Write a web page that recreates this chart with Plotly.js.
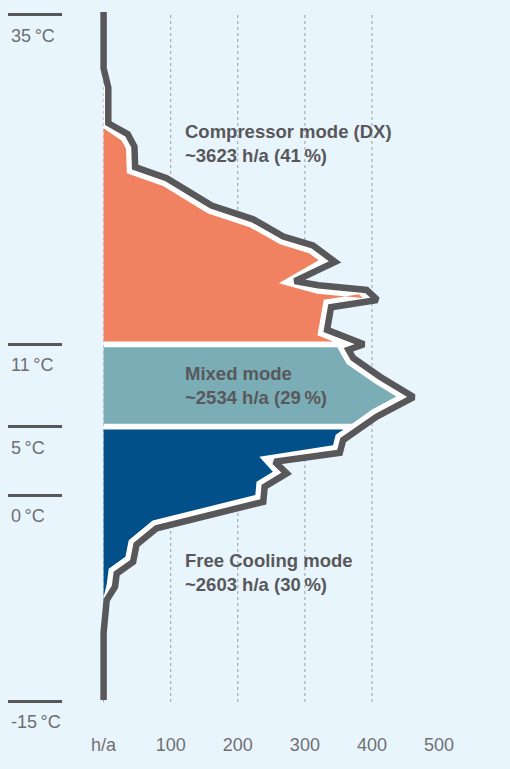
<!DOCTYPE html>
<html>
<head>
<meta charset="utf-8">
<script src="https://cdn.plot.ly/plotly-3.0.1.min.js"></script>
<style>
html,body{margin:0;padding:0;background:#e9f5fd;}
#chart{width:510px;height:769px;}
</style>
</head>
<body>
<div id="chart"></div>
<script>
// ---- data ----
const tempC = [35.2, 31.1, 29.7, 27.1, 26.3, 25.4, 23.9, 23.1, 21.1, 20.1, 18.85, 18.2, 17.0, 15.6, 15.3, 14.96, 14.23, 13.7, 12.05, 11.0, 10.6, 10.0, 8.64, 7.16, 5.73, 5.0, 4.03, 3.1, 2.45, 1.6, 0.63, -0.47, -2.4, -3.6, -4.84, -5.7, -6.66, -7.63, -10.0, -14.9];
const hoursPerYear = [0, 0, 7, 7, 36, 46, 47, 94, 161, 223, 268, 312, 345, 285, 320, 392, 408, 339, 333, 388, 365, 372, 412, 462, 407, 387, 357, 352, 255, 273, 240, 238, 79, 49, 44, 19.5, 17, 4.6, 0, 0];

const modeNames  = ['Compressor mode (DX)', 'Mixed mode', 'Free Cooling mode'];
const modeHours  = [3623, 2534, 2603];
const modeShares = [41, 29, 30];
const modeLow    = [11, 5, -20];
const modeHigh   = [40, 11, 5];
const modeColors = ['#f08262', '#7badb7', '#01508a'];
const modeLabelT = [25.62, 8.02, -5.61];

const tempTicks    = [35, 11, 5, 0, -15];
const tempTickText = ['35\u2009°C', '11\u2009°C', '5\u2009°C', '0\u2009°C', '-15\u2009°C'];
const hourTicks    = [0, 100, 200, 300, 400, 500];
const hourTickText = ['h/a', '100', '200', '300', '400', '500'];
const gridHours    = [0, 100, 200, 300, 400];

// ---- layout geometry ----
const W = 510, H = 769;
const M = {l: 63, r: 0, t: 12, b: 67};
const xRange = [-60.5, 605.7];
const yRange = [-15.05, 35.2];
const sx = (W - M.l - M.r) / (xRange[1] - xRange[0]);
const sy = (H - M.t - M.b) / (yRange[1] - yRange[0]);

const BG = '#e9f5fd';
const LINE = '#58585a';

// inset the profile polyline toward the filled side by d pixels
function inset(xs, ys, d, convexLim, concaveLim) {
  const P = xs.map((x, i) => [x * sx, -ys[i] * sy]);
  const n = P.length, nm = [];
  for (let i = 0; i < n - 1; i++) {
    const dx = P[i + 1][0] - P[i][0], dy = P[i + 1][1] - P[i][1];
    const L = Math.hypot(dx, dy) || 1;
    nm.push([-dy / L, dx / L, dx, dy]);
  }
  const out = [];
  for (let i = 0; i < n; i++) {
    let ox, oy;
    if (i === 0 || i === n - 1) {
      const a = nm[i === 0 ? 0 : n - 2];
      ox = a[0] * d; oy = a[1] * d;
    } else {
      const a = nm[i - 1], b = nm[i];
      let mx = a[0] + b[0], my = a[1] + b[1], ml = Math.hypot(mx, my);
      if (ml < 1e-6) { mx = -a[2]; my = -a[3]; ml = Math.hypot(mx, my); }
      mx /= ml; my /= ml;
      const c = Math.max(mx * a[0] + my * a[1], 0.05);
      const cross = a[2] * b[3] - a[3] * b[2];
      const lim = cross > 0 ? convexLim : concaveLim;
      const len = Math.min(d / c, lim * d);
      ox = mx * len; oy = my * len;
    }
    out.push([Math.max(0, (P[i][0] + ox) / sx), -(P[i][1] + oy) / sy]);
  }
  return [[0, out[0][1]]].concat(out, [[0, out[n - 1][1]]]);
}

function clipBand(poly, lo, hi) {
  const half = (pts, inside, yv) => {
    const res = [];
    for (let i = 0; i < pts.length; i++) {
      const cur = pts[i], prev = pts[(i + pts.length - 1) % pts.length];
      const ci = inside(cur), pi = inside(prev);
      const inter = () => { const t = (yv - prev[1]) / (cur[1] - prev[1]); return [prev[0] + t * (cur[0] - prev[0]), yv]; };
      if (ci) { if (!pi) res.push(inter()); res.push(cur); }
      else if (pi) res.push(inter());
    }
    return res;
  };
  let r = half(poly, p => p[1] <= hi, hi);
  r = half(r, p => p[1] >= lo, lo);
  return r;
}

const traces = [];
// white underlay
const under = inset(hoursPerYear, tempC, 2.5, 3, 2);
traces.push({x: under.map(p => p[0]), y: under.map(p => p[1]), type: 'scatter', mode: 'lines',
  fill: 'toself', fillcolor: '#ffffff', line: {width: 0, color: 'rgba(0,0,0,0)'}, hoverinfo: 'skip'});

// mode fills
const fillPoly = inset(hoursPerYear, tempC, 8.5, 5, 1.9);
const gap = 2.85 / sy;
modeNames.forEach((name, i) => {
  const lo = modeLow[i] + (modeLow[i] > -20 ? gap : 0);
  const hi = modeHigh[i] - (modeHigh[i] < 40 ? gap : 0);
  const p = clipBand(fillPoly, lo, hi);
  traces.push({x: p.map(q => q[0]), y: p.map(q => q[1]), type: 'scatter', mode: 'lines',
    fill: 'toself', fillcolor: modeColors[i], line: {width: 0, color: 'rgba(0,0,0,0)'},
    name: name, hoverinfo: 'skip'});
});

// outline profile
traces.push({x: hoursPerYear, y: tempC, type: 'scatter', mode: 'lines',
  line: {color: LINE, width: 6.5}, hoverinfo: 'skip', cliponaxis: false});

const annotations = [];
tempTicks.forEach((t, i) => annotations.push({
  xref: 'paper', x: (9 - M.l) / (W - M.l - M.r), xanchor: 'left',
  yref: 'y', y: t, yanchor: 'middle', yshift: -21,
  text: tempTickText[i], showarrow: false,
  font: {family: 'Liberation Sans, Arial, sans-serif', size: 18, color: '#6d6e71'}
}));
modeNames.forEach((name, i) => annotations.push({
  xref: 'x', x: 118, xanchor: 'left',
  yref: 'y', y: modeLabelT[i], yanchor: 'middle', align: 'left',
  text: '<b>' + name + '</b><br><b>~' + modeHours[i] + ' h/a (' + modeShares[i] + '\u2009%)</b>',
  showarrow: false,
  font: {family: 'Liberation Sans, Arial, sans-serif', size: 18.5, color: LINE}
}));

const layout = {
  width: W, height: H,
  margin: {l: M.l, r: M.r, t: M.t, b: M.b, pad: 0},
  paper_bgcolor: BG, plot_bgcolor: BG, showlegend: false,
  xaxis: {range: xRange, showgrid: false, zeroline: false, showline: false,
    tickvals: hourTicks, ticktext: hourTickText, ticks: '', ticklabelstandoff: 30,
    tickfont: {family: 'Liberation Sans, Arial, sans-serif', size: 18, color: '#707072'}},
  yaxis: {range: yRange, showgrid: false, zeroline: false, showline: false,
    tickvals: tempTicks, ticks: 'outside', ticklen: 54, tickwidth: 2.6, tickcolor: LINE,
    showticklabels: false},
  shapes: gridHours.map(h => ({type: 'line', xref: 'x', yref: 'paper', x0: h, x1: h, y0: 0, y1: 1,
    layer: 'below', line: {color: '#9a9ea3', width: 1, dash: 'dot'}})),
  annotations: annotations
};

Plotly.newPlot('chart', traces, layout, {staticPlot: true, displayModeBar: false});
</script>
</body>
</html>
